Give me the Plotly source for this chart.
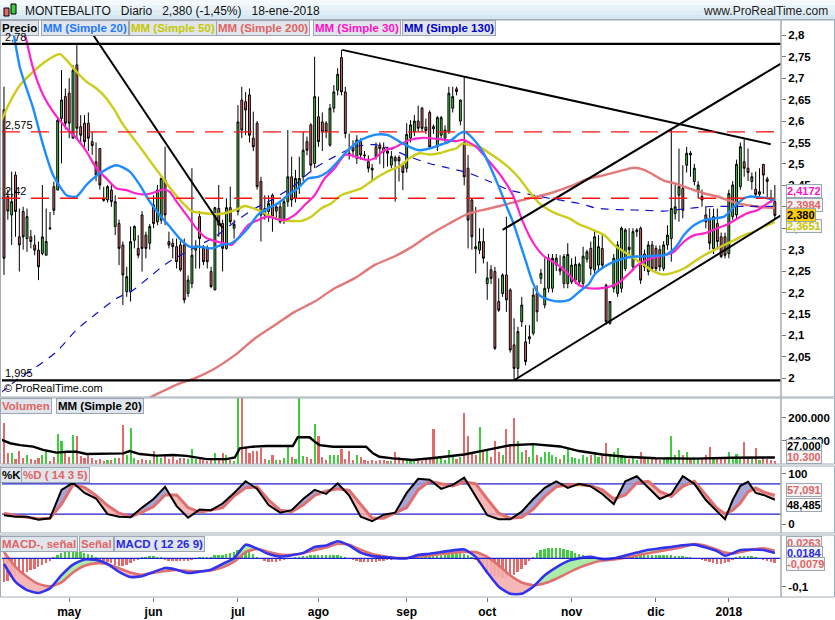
import plotly.graph_objects as go

# ------------------------------------------------------------------ data
month_ticks = [17, 39, 61, 82, 105, 126, 148, 170, 189]
month_labels = ["may", "jun", "jul", "ago", "sep", "oct", "nov", "dic", "2018"]

price_ticks = [2.0, 2.05, 2.1, 2.15, 2.2, 2.25, 2.3, 2.35, 2.4, 2.45, 2.5, 2.55, 2.6, 2.65, 2.7, 2.75, 2.8]
price_labels = ["2", "2,05", "2,1", "2,15", "2,2", "2,25", "2,3", "2,35", "2,4", "2,45", "2,5", "2,55",
                "2,6", "2,65", "2,7", "2,75", "2,8"]

opens = [2.626,2.424,2.381,2.474,2.330,2.389,2.326,2.330,2.311,2.299,
         2.291,2.287,2.351,2.447,2.439,2.606,2.657,2.665,2.560,2.731,
         2.587,2.595,2.595,2.552,2.505,2.536,2.420,2.416,2.439,2.354,
         2.361,2.311,2.202,2.202,2.322,2.303,2.381,2.334,2.315,2.404,
         2.365,2.369,2.462,2.319,2.315,2.307,2.311,2.311,2.198,2.221,
         2.299,2.377,2.303,2.303,2.249,2.206,2.396,2.361,2.303,2.398,
         2.350,2.389,2.649,2.645,2.661,2.560,2.595,2.459,2.396,2.389,
         2.427,2.390,2.400,2.369,2.412,2.470,2.420,2.447,2.470,2.552,
         2.591,2.501,2.610,2.598,2.595,2.544,2.630,2.672,2.748,2.668,
         2.525,2.540,2.513,2.552,2.521,2.505,2.490,2.540,2.544,2.538,
         2.530,2.497,2.515,2.515,2.497,2.490,2.560,2.575,2.600,2.630,
         2.586,2.620,2.587,2.540,2.567,2.560,2.575,2.630,2.675,2.600,
         2.550,2.490,2.416,2.307,2.299,2.319,2.221,2.253,2.249,2.179,
         2.198,2.241,2.206,2.078,2.023,2.132,2.085,2.092,2.105,2.198,
         2.233,2.171,2.210,2.210,2.264,2.256,2.221,2.221,2.225,2.229,
         2.225,2.221,2.278,2.303,2.253,2.264,2.303,2.217,2.128,2.210,
         2.198,2.210,2.256,2.306,2.260,2.342,2.350,2.290,2.249,2.311,
         2.303,2.300,2.256,2.311,2.326,2.384,2.427,2.443,2.497,2.525,
         2.459,2.435,2.424,2.381,2.373,2.303,2.361,2.330,2.330,2.291,
         2.377,2.381,2.447,2.505,2.490,2.459,2.441,2.429,2.499,2.465,
         2.420,2.412]
highs = [2.680,2.440,2.482,2.482,2.396,2.400,2.396,2.346,2.334,2.319,
         2.451,2.396,2.388,2.459,2.606,2.719,2.676,2.700,2.731,2.777,
         2.614,2.614,2.620,2.575,2.550,2.536,2.447,2.451,2.455,2.427,
         2.370,2.319,2.260,2.354,2.357,2.334,2.390,2.342,2.360,2.427,
         2.451,2.470,2.540,2.342,2.326,2.326,2.320,2.326,2.240,2.490,
         2.322,2.390,2.311,2.310,2.260,2.400,2.451,2.370,2.420,2.447,
         2.370,2.637,2.680,2.668,2.676,2.622,2.600,2.470,2.427,2.427,
         2.431,2.410,2.412,2.420,2.579,2.517,2.486,2.517,2.575,2.564,
         2.595,2.750,2.657,2.620,2.600,2.640,2.684,2.723,2.766,2.680,
         2.571,2.555,2.567,2.560,2.530,2.520,2.500,2.550,2.550,2.550,
         2.540,2.530,2.520,2.520,2.500,2.595,2.602,2.614,2.636,2.633,
         2.606,2.625,2.592,2.612,2.612,2.590,2.680,2.680,2.680,2.650,
         2.704,2.521,2.420,2.400,2.350,2.350,2.272,2.264,2.260,2.233,
         2.245,2.377,2.210,2.140,2.120,2.190,2.124,2.124,2.210,2.217,
         2.255,2.280,2.290,2.290,2.290,2.287,2.290,2.315,2.280,2.284,
         2.270,2.307,2.300,2.319,2.346,2.334,2.334,2.221,2.180,2.290,
         2.320,2.354,2.350,2.350,2.350,2.350,2.354,2.300,2.320,2.320,
         2.310,2.310,2.320,2.357,2.579,2.451,2.536,2.497,2.540,2.530,
         2.500,2.460,2.440,2.400,2.396,2.396,2.396,2.340,2.340,2.440,
         2.460,2.510,2.550,2.560,2.536,2.480,2.482,2.490,2.500,2.470,
         2.440,2.451]
lows = [2.241,2.370,2.311,2.330,2.249,2.300,2.295,2.303,2.287,2.229,
        2.287,2.287,2.346,2.381,2.439,2.501,2.580,2.560,2.560,2.560,
        2.550,2.540,2.530,2.521,2.460,2.440,2.412,2.410,2.400,2.334,
        2.264,2.171,2.190,2.179,2.303,2.280,2.249,2.280,2.300,2.350,
        2.357,2.360,2.357,2.303,2.280,2.256,2.249,2.175,2.190,2.210,
        2.256,2.256,2.264,2.256,2.210,2.206,2.330,2.249,2.300,2.360,
        2.326,2.380,2.560,2.567,2.550,2.530,2.440,2.319,2.370,2.365,
        2.342,2.370,2.361,2.360,2.400,2.400,2.410,2.430,2.460,2.520,
        2.480,2.490,2.540,2.530,2.560,2.540,2.620,2.660,2.660,2.560,
        2.510,2.515,2.500,2.510,2.510,2.480,2.459,2.510,2.500,2.490,
        2.494,2.490,2.412,2.459,2.439,2.480,2.550,2.565,2.575,2.575,
        2.570,2.535,2.570,2.530,2.560,2.550,2.570,2.620,2.660,2.590,
        2.450,2.303,2.300,2.245,2.290,2.268,2.183,2.220,2.066,2.155,
        2.190,2.155,2.060,1.996,2.000,2.120,2.030,2.080,2.100,2.132,
        2.220,2.163,2.200,2.200,2.250,2.240,2.210,2.210,2.220,2.220,
        2.220,2.210,2.270,2.240,2.240,2.250,2.256,2.125,2.125,2.200,
        2.190,2.200,2.250,2.280,2.250,2.330,2.220,2.250,2.240,2.250,
        2.250,2.250,2.250,2.300,2.272,2.370,2.365,2.373,2.480,2.470,
        2.450,2.420,2.400,2.350,2.300,2.290,2.300,2.280,2.280,2.280,
        2.370,2.370,2.440,2.470,2.460,2.440,2.420,2.420,2.430,2.420,
        2.410,2.370]
closes = [2.280,2.390,2.412,2.389,2.311,2.330,2.377,2.319,2.299,2.260,
          2.330,2.319,2.349,2.392,2.602,2.649,2.595,2.595,2.719,2.583,
          2.567,2.552,2.560,2.543,2.474,2.451,2.415,2.447,2.412,2.412,
          2.303,2.241,2.237,2.319,2.354,2.287,2.303,2.303,2.354,2.361,
          2.439,2.466,2.381,2.311,2.307,2.272,2.253,2.183,2.229,2.287,
          2.307,2.326,2.272,2.272,2.214,2.398,2.357,2.303,2.398,2.365,
          2.359,2.598,2.579,2.626,2.567,2.540,2.447,2.381,2.381,2.408,
          2.377,2.400,2.365,2.412,2.470,2.416,2.466,2.466,2.532,2.532,
          2.497,2.657,2.552,2.575,2.575,2.630,2.668,2.709,2.668,2.571,
          2.521,2.530,2.556,2.521,2.519,2.490,2.486,2.517,2.536,2.528,
          2.525,2.517,2.507,2.507,2.480,2.569,2.591,2.600,2.583,2.583,
          2.578,2.540,2.582,2.608,2.608,2.579,2.665,2.657,2.669,2.649,
          2.470,2.369,2.330,2.302,2.319,2.280,2.234,2.233,2.070,2.159,
          2.241,2.183,2.066,2.023,2.109,2.171,2.039,2.097,2.194,2.155,
          2.245,2.210,2.280,2.280,2.280,2.250,2.284,2.289,2.264,2.266,
          2.266,2.285,2.295,2.256,2.330,2.307,2.264,2.132,2.179,2.280,
          2.311,2.350,2.346,2.300,2.342,2.346,2.229,2.260,2.311,2.256,
          2.256,2.260,2.311,2.334,2.396,2.400,2.447,2.392,2.525,2.521,
          2.490,2.451,2.416,2.365,2.315,2.377,2.319,2.284,2.287,2.431,
          2.451,2.499,2.540,2.490,2.480,2.470,2.429,2.435,2.474,2.459,
          2.416,2.380]
volumes = [176000,48000,47000,20000,57000,25000,37000,20000,15000,25000,
           37000,57000,10000,30000,129000,99000,47000,30000,125000,120000,
           35000,25000,40000,25000,15000,20000,10000,15000,15000,25000,
           25000,168000,40000,154000,25000,15000,20000,15000,15000,54000,
           40000,25000,40000,20000,28000,15000,25000,25000,20000,62000,
           20000,25000,15000,10000,20000,48000,20000,48000,40000,15000,
           10000,450000,400000,70000,48000,57000,55000,70000,20000,15000,
           40000,15000,15000,25000,80000,30000,20000,700000,35000,30000,
           20000,172000,120000,30000,15000,40000,40000,40000,62000,20000,
           57000,15000,40000,28000,15000,10000,15000,10000,15000,15000,
           10000,10000,50000,28000,15000,20000,10000,20000,15000,10000,
           15000,20000,150000,25000,30000,15000,60000,40000,20000,30000,
           220000,120000,50000,40000,160000,60000,60000,30000,100000,50000,
           40000,150000,80000,200000,100000,50000,60000,30000,80000,40000,
           30000,50000,50000,40000,30000,20000,40000,70000,30000,25000,
           20000,40000,30000,40000,50000,30000,40000,90000,40000,50000,
           70000,40000,30000,20000,30000,15000,50000,20000,30000,25000,
           20000,15000,25000,30000,120000,40000,60000,40000,50000,20000,
           30000,20000,20000,40000,74000,30000,30000,20000,30000,52000,
           30000,42000,20000,96000,30000,20000,68000,15000,25000,20000,
           15000,10300]

# moving averages: (day index, value)
ma20 = [(0,2.92),(2.4,2.81),(4.2,2.723),(7.6,2.630),(10.2,2.544),(12.8,2.474),(14.6,2.447),(16.3,2.427),
        (18.9,2.424),(21.5,2.451),(25,2.478),(29.3,2.497),(32.8,2.482),(35.4,2.451),(38,2.412),(40.6,2.381),
        (43.2,2.354),(45.8,2.326),(48.4,2.307),(51,2.307),(54.1,2.303),(56.7,2.311),(59.3,2.315),(61,2.326),
        (63.6,2.350),(66.2,2.381),(68.8,2.396),(71.4,2.408),(74,2.427),(76.6,2.443),(79.3,2.466),(81.9,2.470),
        (84.5,2.482),(87,2.505),(89.7,2.532),(92.3,2.552),(94.9,2.563),(97.5,2.569),(100.1,2.567),(103.1,2.552),
        (105.7,2.540),(108.3,2.532),(110.9,2.536),(113.5,2.544),(116.1,2.552),(118.8,2.571),(120.1,2.575),
        (122.2,2.560),(124.8,2.529),(126.6,2.497),(129.2,2.443),(130.9,2.404),(132.7,2.365),(134.4,2.319),
        (136.1,2.272),(137.8,2.225),(139.6,2.194),(142.2,2.183),(144.8,2.179),(147.4,2.183),(150,2.202),
        (152.6,2.221),(153.9,2.241),(156.5,2.260),(159.1,2.272),(161.7,2.280),(164.3,2.284),(166.9,2.284),
        (169.5,2.286),(172.1,2.287),(173.9,2.295),(175.6,2.311),(177.3,2.334),(179.9,2.357),(182.6,2.369),
        (185.2,2.373),(187.8,2.377),(189.5,2.392),(191.3,2.408),(193,2.420),(194.7,2.424),(197.3,2.422),
        (199.1,2.420),(201,2.416)]
ma30 = [(0,2.95),(5.5,2.80),(7.6,2.723),(10.2,2.661),(12.8,2.622),(16.3,2.583),(18.9,2.560),(21.5,2.529),
        (24.1,2.490),(26.7,2.466),(29.3,2.443),(31.9,2.439),(34.5,2.431),(37.2,2.429),(39.8,2.435),(41.5,2.441),
        (43.2,2.435),(45,2.412),(47.6,2.381),(49.7,2.355),(52.3,2.330),(55,2.320),(57.6,2.315),(59.3,2.311),
        (61,2.326),(63.6,2.357),(66.2,2.369),(68.8,2.377),(71.4,2.371),(73.1,2.369),(75.8,2.381),(78.4,2.404),
        (81,2.427),(83.6,2.466),(86.2,2.490),(88.8,2.521),(90.1,2.521),(92.3,2.515),(94.9,2.509),(96.6,2.513),
        (99.2,2.532),(101.8,2.538),(105.7,2.556),(109.2,2.561),(113.5,2.558),(117.9,2.553),(119.6,2.556),
        (123.1,2.540),(126.6,2.505),(130.1,2.466),(132.7,2.427),(135.3,2.365),(137.8,2.319),(140.5,2.287),
        (143.1,2.272),(145.7,2.256),(147.4,2.241),(150,2.217),(152.6,2.210),(156.5,2.211),(160,2.221),
        (162.6,2.241),(165.2,2.264),(168.7,2.280),(172.1,2.287),(174.7,2.295),(177.3,2.319),(180,2.334),
        (182.6,2.338),(186,2.350),(188.6,2.359),(191.3,2.373),(193.8,2.385),(196.4,2.392),(199.1,2.408),
        (201,2.417)]
ma50 = [(-1,2.595),(1.6,2.645),(4.2,2.684),(7.6,2.715),(10.2,2.735),(12.8,2.750),(14.6,2.756),(16.3,2.742),
        (18.9,2.715),(21.5,2.692),(24.1,2.676),(25.9,2.661),(28.5,2.630),(31.1,2.591),(33.7,2.560),(36.3,2.529),
        (38.9,2.497),(41.5,2.466),(44.1,2.435),(46.7,2.408),(48.9,2.390),(52.3,2.385),(55,2.383),(57.6,2.385),
        (60.2,2.392),(62.8,2.402),(64.5,2.398),(67.1,2.389),(69.7,2.377),(72.3,2.369),(75,2.367),(77.5,2.367),
        (80.1,2.377),(82.7,2.396),(85.3,2.408),(87.9,2.427),(90.5,2.435),(93.1,2.443),(95.7,2.459),(98.3,2.474),
        (100.9,2.486),(103.1,2.494),(105.7,2.513),(108.3,2.525),(110.9,2.522),(113.5,2.525),(116.1,2.532),
        (117.9,2.536),(119.6,2.548),(121.4,2.544),(124,2.540),(126.6,2.525),(129.2,2.509),(131.8,2.490),
        (134.4,2.466),(137,2.435),(139.6,2.408),(142.2,2.392),(144.8,2.381),(147.4,2.373),(150,2.359),
        (152.6,2.350),(156.5,2.334),(159.1,2.311),(161.7,2.295),(164.3,2.280),(166.9,2.264),(169.5,2.249),
        (172.1,2.242),(174.7,2.247),(177.3,2.256),(179.9,2.272),(182.6,2.287),(185.2,2.299),(187.8,2.311),
        (190.4,2.322),(193,2.334),(195.6,2.342),(198.2,2.354),(201,2.365)]
ma200 = [(38,1.955),(45.8,1.988),(49.7,2.000),(55,2.023),(60.2,2.054),(65.4,2.093),(70.6,2.124),(75.8,2.155),
         (81,2.179),(86.2,2.210),(91.4,2.233),(96.6,2.264),(101.8,2.284),(105.7,2.303),(110.9,2.334),
         (116.1,2.361),(121.4,2.385),(126.6,2.396),(131.8,2.408),(137,2.420),(142.2,2.431),(147.4,2.447),
         (152.6,2.466),(156.5,2.474),(161.7,2.486),(164.3,2.491),(166.9,2.486),(169.5,2.474),(172.1,2.461),
         (174.7,2.455),(177.3,2.447),(179.9,2.439),(182.6,2.431),(186,2.424),(188.6,2.416),(191.3,2.408),
         (193.8,2.404),(196.4,2.400),(199.1,2.398),(201,2.398)]
ma130 = [(-1,1.965),(3.3,1.996),(8.5,2.027),(13.7,2.062),(18.9,2.113),(24.1,2.151),(29.3,2.186),(33.7,2.206),
         (38,2.237),(42.4,2.268),(47.6,2.295),(51,2.311),(55,2.330),(60.2,2.365),(65.4,2.396),(70.6,2.420),
         (75.8,2.451),(81,2.490),(86.2,2.517),(91.4,2.540),(96.6,2.545),(100.5,2.536),(105.7,2.517),
         (110.9,2.501),(116.1,2.490),(121.4,2.478),(126.6,2.459),(131.8,2.439),(137,2.429),(142.2,2.420),
         (147.4,2.412),(150.9,2.406),(153.9,2.398),(156.5,2.395),(161.7,2.393),(166.9,2.392),(172.1,2.390),
         (177.3,2.395),(182.6,2.400),(187.8,2.401),(193,2.401),(198.2,2.401),(201,2.401)]
vol_ma20 = [(-1,106000),(1.6,89000),(4.2,81000),(7.6,74000),(10.2,60000),(13.7,48000),(16.3,52000),
            (18.9,52000),(21.5,42000),(26.7,42000),(31.1,45000),(32.8,55000),(35.4,42000),(39.8,35000),
            (44.1,38000),(47.6,34000),(52.8,20000),(58,20000),(60.2,27000),(61.5,67000),(64.9,74000),
            (68.4,77000),(75.3,77000),(76.6,115000),(79.7,115000),(81,96000),(82.3,81000),(85.8,74000),
            (94.4,74000),(96.2,45000),(97.9,30000),(101.4,23000),(106.6,16000),(112,25000),(120,40000),
            (126,60000),(132,80000),(138,85000),(145,75000),(150,55000),(156,40000),(162,30000),
            (170,24000),(180,22000),(190,26000),(201,27000)]

# drawn levels and trend lines (day index, price)
black_levels = [2.78, 1.995]
red_levels = [2.575, 2.42]
trend_lines = [([20.65, 57.0], [2.8357, 2.3506]),
               ([88.2, 199.9], [2.766, 2.546]),
               ([133.1, 202.6], [1.996, 2.380]),
               ([130.0, 202.6], [2.346, 2.734])]

# stochastic (14 3 5)
stoch_days = [0,3,6,9,12,15,18,21,24,27,30,33,36,39,42,45,48,51,54,57,60,63,66,69,72,75,78,81,84,87,
              90,93,96,99,102,105,108,111,114,117,120,123,126,129,132,135,138,141,144,147,150,153,156,
              159,162,165,168,171,174,177,180,183,186,188,190,192,194,196,198,201]
stoch_k = [18,15,15,9,12,68,82,62,51,20,15,14,33,50,74,36,13,29,28,41,62,85,70,38,23,28,50,68,60,81,
           57,15,6,19,23,62,90,88,70,78,92,55,18,10,10,25,50,72,85,72,80,75,60,40,85,95,72,50,60,95,
           80,48,25,10,48,76,84,62,58,48.485]
stoch_d = [22,17,14,11,12,40,78,73,57,37,22,15,24,35,58,58,33,24,28,33,56,72,74,48,28,25,38,57,66,70,
           67,40,12,12,22,33,68,85,80,76,84,80,50,22,12,14,30,55,74,78,78,76,68,50,58,82,85,65,55,75,
           85,58,31,21,28,42,64,72,64,57.091]

# MACD (12 26 9)
macd_days = [0,3,6,9,12,15,18,21,24,27,30,33,36,39,42,45,48,51,54,57,60,63,66,69,72,75,78,81,84,87,
             90,93,96,99,102,105,108,111,114,117,120,123,126,129,132,135,138,141,144,147,150,153,156,
             159,162,165,168,171,174,177,180,183,186,188,190,192,195,198,201]
macd_line = [-0.02,-0.083,-0.112,-0.122,-0.106,-0.059,-0.022,-0.004,-0.006,-0.02,
             -0.048,-0.066,-0.063,-0.048,-0.034,-0.04,-0.052,-0.047,-0.04,-0.02,
             0.0,0.048,0.034,0.015,0.006,0.011,0.019,0.04,0.045,0.06,
             0.045,0.02,0.008,0.004,0.0,0.0,0.012,0.016,0.022,0.028,
             0.031,0.005,-0.05,-0.10,-0.125,-0.125,-0.1,-0.06,-0.032,-0.01,
             0.0,0.005,-0.003,0.0,0.01,0.02,0.03,0.035,0.04,0.046,0.048,
             0.038,0.025,0.009,0.018,0.029,0.031,0.029,0.0184]
signal_line = [0.022,-0.03,-0.065,-0.09,-0.099,-0.085,-0.05,-0.026,-0.018,-0.021,
               -0.035,-0.05,-0.058,-0.051,-0.045,-0.041,-0.045,-0.046,-0.043,-0.032,
               -0.012,0.022,0.033,0.022,0.013,0.012,0.018,0.029,0.038,0.051,
               0.048,0.03,0.015,0.007,0.002,0.001,0.006,0.01,0.015,0.019,
               0.022,0.022,0.005,-0.025,-0.06,-0.085,-0.095,-0.088,-0.072,-0.052,
               -0.033,-0.018,-0.008,-0.004,0.002,0.01,0.018,0.025,0.032,0.04,0.05,
               0.044,0.03,0.02,0.017,0.022,0.03,0.035,0.0263]
macd_hist = [-0.082,-0.080,-0.066,-0.062,-0.055,-0.052,-0.048,-0.042,-0.036,-0.030,-0.023,-0.017,
             -0.008,0.005,0.012,0.018,0.022,0.023,0.023,0.023,0.022,0.020,0.016,0.010,0.003,
             -0.006,-0.010,-0.014,-0.018,-0.022,-0.026,-0.028,-0.025,-0.018,-0.010,-0.004,
             0.002,0.005,0.007,0.008,0.006,0.002,
             -0.004,-0.008,-0.010,-0.010,-0.009,-0.010,-0.008,-0.004,0.0,
             0.002,0.004,0.005,0.006,0.010,0.012,0.013,0.015,0.017,0.022,0.030,0.032,0.030,0.024,0.015,0.006,
             -0.002,-0.008,-0.012,-0.013,-0.012,-0.010,-0.006,-0.002,0.0,
             0.003,0.005,0.007,0.009,0.011,0.013,0.012,0.012,0.011,0.010,0.010,0.010,0.009,0.005,
             -0.002,-0.006,-0.010,-0.013,-0.014,-0.014,-0.013,-0.012,-0.010,-0.008,-0.006,-0.004,-0.002,
             0.002,0.004,0.006,0.008,0.010,0.012,0.012,0.013,0.013,0.014,0.015,0.016,0.017,0.018,0.018,0.018,0.017,0.015,0.012,0.006,
             -0.005,-0.018,-0.032,-0.045,-0.055,-0.062,-0.066,-0.068,-0.068,-0.064,-0.058,-0.048,-0.036,
             -0.022,-0.008,0.006,0.018,0.028,0.034,0.037,0.038,0.037,0.035,0.032,0.028,0.024,0.020,0.016,
             0.012,0.008,0.004,0.0,-0.003,-0.004,-0.004,-0.003,-0.001,0.002,
             0.004,0.006,0.008,0.009,0.010,0.011,0.012,0.012,0.012,0.012,0.011,0.011,0.010,0.010,0.009,0.008,0.007,0.005,0.003,0.001,-0.002,
             -0.006,-0.010,-0.014,-0.017,-0.019,-0.020,-0.018,-0.012,-0.004,
             0.004,0.008,0.009,0.009,0.007,0.004,0.0,
             -0.004,-0.008,-0.012,-0.017]

# ------------------------------------------------------------------ layout helpers
W, H = 835, 620
ML, MR, MT, MB = 2, 54, 20, 23
PW, PH = W - ML - MR, H - MT - MB
FONT = "Liberation Sans, Arial, sans-serif"
GREEN, RED = "#3fcc3f", "#e26a6a"
GRAY = "#a3adb7"


def fx(px):
    return (px - ML) / PW


def fy(py):
    return (H - MB - py) / PH


days = list(range(len(closes)))
fig = go.Figure()

# ------------------------------------------------------------------ price pane
fig.add_trace(go.Candlestick(
    x=days, open=opens, high=highs, low=lows, close=closes,
    increasing=dict(fillcolor=GREEN, line=dict(color="black", width=1)),
    decreasing=dict(fillcolor=RED, line=dict(color="black", width=1)),
    whiskerwidth=0, xaxis="x", yaxis="y", hoverinfo="skip", showlegend=False))


def add_pairs(pairs, color, width, yaxis="y", dash="solid", shape="spline"):
    fig.add_trace(go.Scatter(x=[p[0] for p in pairs], y=[p[1] for p in pairs], mode="lines",
                             line=dict(color=color, width=width, dash=dash, shape=shape, smoothing=0.7),
                             xaxis="x", yaxis=yaxis, hoverinfo="skip", showlegend=False))


add_pairs(ma200, "#e27878", 2.4)
add_pairs(ma130, "#1010c8", 1.2, dash="8px,7px")
add_pairs(ma50, "#cccc1a", 2.4)
add_pairs(ma30, "#ff22cc", 2.2)
add_pairs(ma20, "#1e8cff", 2.4)

for xs, ys in trend_lines:
    fig.add_trace(go.Scatter(x=xs, y=ys, mode="lines", line=dict(color="black", width=2),
                             xaxis="x", yaxis="y", hoverinfo="skip", showlegend=False))

shapes = []
for lv in black_levels:
    shapes.append(dict(type="line", xref="paper", yref="y", x0=0, x1=1, y0=lv, y1=lv,
                       line=dict(color="black", width=2.2)))
for lv in red_levels:
    shapes.append(dict(type="line", xref="paper", yref="y", x0=0, x1=1, y0=lv, y1=lv,
                       line=dict(color="#ff1010", width=1.3, dash="18px,11px")))

# ------------------------------------------------------------------ volume pane
vol_colors = [GREEN if c >= o else RED for o, c in zip(opens, closes)]
fig.add_trace(go.Bar(x=days, y=volumes, marker=dict(color=vol_colors, line=dict(width=0)), width=0.55,
                     xaxis="x", yaxis="y2", hoverinfo="skip", showlegend=False))
add_pairs(vol_ma20, "black", 2.4, yaxis="y2", shape="linear")


# ------------------------------------------------------------------ band fills
def band(xs, a, b, col_up, col_dn, yaxis):
    runs = []
    cx, ca, cb = [xs[0]], [a[0]], [b[0]]
    cs = a[0] >= b[0]
    for k in range(1, len(xs)):
        s = a[k] >= b[k]
        if s == cs:
            cx.append(xs[k]); ca.append(a[k]); cb.append(b[k])
        else:
            d0, d1 = a[k - 1] - b[k - 1], a[k] - b[k]
            t = d0 / (d0 - d1)
            xc = xs[k - 1] + t * (xs[k] - xs[k - 1])
            yc = a[k - 1] + t * (a[k] - a[k - 1])
            cx.append(xc); ca.append(yc); cb.append(yc)
            runs.append((cs, cx, ca, cb))
            cx, ca, cb, cs = [xc, xs[k]], [yc, a[k]], [yc, b[k]], s
    runs.append((cs, cx, ca, cb))
    for s, rx, ra, rb in runs:
        fig.add_trace(go.Scatter(x=rx + rx[::-1], y=ra + rb[::-1], mode="lines", fill="toself",
                                 fillcolor=col_up if s else col_dn, line=dict(width=0),
                                 xaxis="x", yaxis=yaxis, hoverinfo="skip", showlegend=False))


# stochastic
band(stoch_days, stoch_k, stoch_d, "rgba(150,150,210,0.85)", "rgba(245,170,170,0.85)", "y3")
fig.add_trace(go.Scatter(x=stoch_days, y=stoch_d, mode="lines", line=dict(color="#e07070", width=3),
                         xaxis="x", yaxis="y3", hoverinfo="skip", showlegend=False))
fig.add_trace(go.Scatter(x=stoch_days, y=stoch_k, mode="lines", line=dict(color="black", width=2),
                         xaxis="x", yaxis="y3", hoverinfo="skip", showlegend=False))
for lv in (80, 20):
    shapes.append(dict(type="line", xref="paper", yref="y3", x0=0, x1=1, y0=lv, y1=lv,
                       line=dict(color="#2020cc", width=1.2), layer="below"))

# MACD
hist_colors = [GREEN if v >= 0 else RED for v in macd_hist]
fig.add_trace(go.Bar(x=days, y=macd_hist, marker=dict(color=hist_colors, line=dict(width=0)), width=0.5,
                     xaxis="x", yaxis="y4", hoverinfo="skip", showlegend=False))
band(macd_days, macd_line, signal_line, "rgba(160,235,160,0.9)", "rgba(245,175,175,0.9)", "y4")
fig.add_trace(go.Scatter(x=macd_days, y=signal_line, mode="lines",
                         line=dict(color="#e07070", width=2.6, shape="spline", smoothing=0.5),
                         xaxis="x", yaxis="y4", hoverinfo="skip", showlegend=False))
fig.add_trace(go.Scatter(x=macd_days, y=macd_line, mode="lines",
                         line=dict(color="#3333ee", width=2.6, shape="spline", smoothing=0.5),
                         xaxis="x", yaxis="y4", hoverinfo="skip", showlegend=False))
shapes.append(dict(type="line", xref="paper", yref="y4", x0=0, x1=1, y0=0, y1=0,
                   line=dict(color="#2020cc", width=1.2)))

# ------------------------------------------------------------------ frames & header
stripes = ["#f4f9fc", "#e9f3f8", "#dfedf4", "#d5e7f0"]
for k, col in enumerate(stripes):
    shapes.append(dict(type="rect", xref="paper", yref="paper", x0=fx(0), x1=fx(835),
                       y0=fy(5 * (k + 1)), y1=fy(5 * k), fillcolor=col, line=dict(width=0), layer="above"))
shapes.append(dict(type="line", xref="paper", yref="paper", x0=fx(0), x1=fx(835), y0=fy(19.5), y1=fy(19.5),
                   line=dict(color=GRAY, width=1)))
panes = [(20, 397), (398, 464), (466, 533), (535, 597)]
for top, bot in panes:
    shapes.append(dict(type="rect", xref="paper", yref="paper", x0=fx(0.5), x1=fx(781), y0=fy(bot), y1=fy(top),
                       line=dict(color=GRAY, width=1), layer="above"))
    shapes.append(dict(type="rect", xref="paper", yref="paper", x0=fx(781), x1=fx(834.5), y0=fy(bot), y1=fy(top),
                       line=dict(color=GRAY, width=1), layer="above"))
# header icon (small candles)
shapes.append(dict(type="rect", xref="paper", yref="paper", x0=fx(4), x1=fx(9), y0=fy(16), y1=fy(8),
                   fillcolor=RED, line=dict(color="black", width=1), layer="above"))
shapes.append(dict(type="rect", xref="paper", yref="paper", x0=fx(11), x1=fx(16), y0=fy(14), y1=fy(4),
                   fillcolor=GREEN, line=dict(color="black", width=1), layer="above"))

ann = []


def txt(x, y, text, size=12, color="black", bold=False, anchor="left", yanchor="middle", **kw):
    ann.append(dict(xref="paper", yref="paper", x=fx(x), y=fy(y), text=text, showarrow=False,
                    xanchor=anchor, yanchor=yanchor,
                    font=dict(family=FONT, size=size, color=color, weight="bold" if bold else "normal"), **kw))


def box(x, y, text, color, bg="#dfe5ea", size=11.5, border="#9aa6b2", pad=1):
    txt(x, y, text, size=size, color=color, bold=True, bgcolor=bg, bordercolor=border, borderwidth=1,
        borderpad=pad)


txt(23, 11, "MONTEBALITO&nbsp;&nbsp;&nbsp;Diario&nbsp;&nbsp;&nbsp;2,380 (-1,45%)&nbsp;&nbsp;&nbsp;18-ene-2018",
    size=12, color="#111111")
txt(830, 11, "www.ProRealTime.com", size=12, color="#222222", anchor="right")

# pane legends
box(0, 28, "Precio", "black")
box(41, 28, "MM (Simple 20)", "#1e78ff")
box(129, 28, "MM (Simple 50)", "#c8c800")
box(216, 28, "MM (Simple 200)", "#e06464")
box(313, 28, "MM (Simple 30)", "#ff10c8")
box(402, 28, "MM (Simple 130)", "#0000c8")
box(0, 406, "Volumen", "#e06464")
box(56, 406, "MM (Simple 20)", "black")
box(0, 475, "%K", "black")
box(21, 475, "%D ( 14 3 5)", "#e06464")
box(0, 544, "MACD-, señal", "#e06464")
box(79, 544, "Señal", "#e06464")
box(114, 544, "MACD ( 12 26 9)", "#2828e0")

txt(2, 388, "© ProRealTime.com", size=11, color="black")

# level labels at the left edge
for lv in black_levels + red_levels:
    ann.append(dict(xref="paper", yref="y", x=fx(3), y=lv, text=("%g" % lv).replace(".", ","),
                    showarrow=False, xanchor="left", yanchor="bottom", yshift=-1,
                    font=dict(family=FONT, size=11, color="black")))

# right-hand value tags
box(786, 191, "2,4172", "#ff10c8", bg="white", size=11, pad=0)
box(786, 205, "2,3984", "#e06464", bg="#f4f4f4", size=11, pad=0)
box(786, 226, "2,3651", "#c8c800", bg="#f4f4f4", size=11, pad=0)
box(786, 215, "2,380", "black", bg="#ffcc00", size=11, pad=0)
box(786, 446, "27.000", "black", bg="white", size=11, pad=0)
box(786, 457, "10.300", "#e06464", bg="#f4f4f4", size=11, pad=0)
box(786, 490, "57,091", "#e06464", bg="#f4f4f4", size=11, pad=0)
box(786, 505, "48,485", "black", bg="white", size=11, pad=0)
box(786, 543, "0,0263", "#e06464", bg="#f4f4f4", size=11, pad=0)
box(786, 553, "0,0184", "#2828e0", bg="#f4f4f4", size=11, pad=0)
box(786, 564, "-0,0079", "#e06464", bg="#f4f4f4", size=11, pad=0)

tickfont = dict(family=FONT, size=11.5, color="black", weight="bold")
common_y = dict(side="right", anchor="x", showgrid=False, zeroline=False, showline=False, ticks="outside",
                ticklen=4, tickcolor="#777777", tickfont=tickfont, fixedrange=True)

fig.update_layout(
    width=W, height=H, margin=dict(l=ML, r=MR, t=MT, b=MB),
    paper_bgcolor="white", plot_bgcolor="white", showlegend=False,
    xaxis=dict(domain=[0, 1], range=[-0.52, 202.6], anchor="y4", tickvals=month_ticks, ticktext=month_labels,
               ticks="outside", ticklen=4, tickcolor="#777777",
               tickfont=dict(family=FONT, size=12, color="black", weight="bold"),
               showgrid=False, zeroline=False, showline=False, rangeslider=dict(visible=False), fixedrange=True),
    yaxis=dict(domain=[fy(397), 1], range=[1.9564, 2.8357], tickvals=price_ticks, ticktext=price_labels,
               **common_y),
    yaxis2=dict(domain=[fy(464), fy(398)], range=[-1300, 285650], tickvals=[100000, 200000],
                ticktext=["100.000", "200.000"], **common_y),
    yaxis3=dict(domain=[fy(533), fy(466)], range=[-17.2, 115.2], tickvals=[0, 100], ticktext=["0", "100"],
                **common_y),
    yaxis4=dict(domain=[0, fy(535)], range=[-0.1363, 0.082], tickvals=[-0.1], ticktext=["-0,1"], **common_y),
    shapes=shapes, annotations=ann, bargap=0,
)

fig.write_html("out.html", config={"displayModeBar": False},
               post_script="document.body.style.margin='0px';document.body.style.overflow='hidden';")
